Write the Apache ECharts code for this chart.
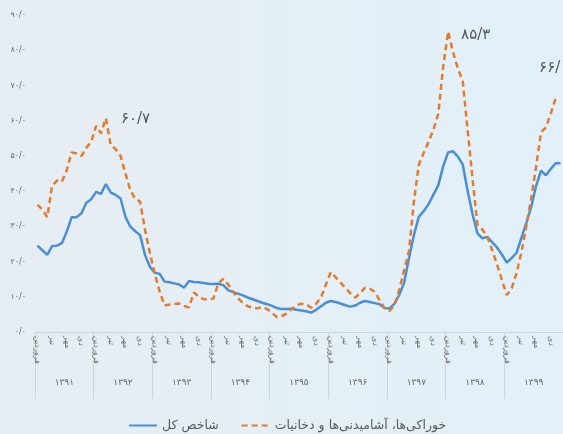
<!DOCTYPE html>
<html>
<head>
<meta charset="utf-8">
<script src="https://cdn.jsdelivr.net/npm/echarts@6/dist/echarts.min.js"></script>
<style>
html,body{margin:0;padding:0;}
#chart{width:563px;height:434px;}
</style>
</head>
<body>
<div id="chart"></div>
<script>
// ---- data ----
var years = ['۱۳۹۱','۱۳۹۲','۱۳۹۳','۱۳۹۴','۱۳۹۵','۱۳۹۶','۱۳۹۷','۱۳۹۸','۱۳۹۹'];
var monthNames = ['فروردین','اردیبهشت','خرداد','تیر','مرداد','شهریور','مهر','آبان','آذر','دی','بهمن','اسفند'];
var seriesNames = ['شاخص کل','خوراکی‌ها، آشامیدنی‌ها و دخانیات'];
var overall = [
 24.5,23.2,21.9,24.4,24.5,25.2,28.5,32.6,32.6,33.7,36.7,37.7,
 39.8,39.2,42.0,39.6,38.9,37.9,32.7,29.9,28.6,27.5,21.9,18.5,
 16.8,16.5,14.3,14.1,13.8,13.5,12.6,14.5,14.2,14.1,13.9,13.7,
 13.6,13.7,13.3,11.9,11.3,10.9,10.4,9.8,9.3,8.8,8.3,7.9,
 7.4,6.8,6.5,6.5,6.6,6.3,6.1,5.9,5.5,6.3,7.3,8.3,
 8.8,8.5,8.1,7.6,7.2,7.5,8.3,8.8,8.5,8.2,7.9,6.8,
 6.7,8.0,10.5,14.0,21.0,27.5,32.7,34.3,36.3,39.0,41.7,47.1,
 51.0,51.3,49.8,47.5,40.0,33.4,28.0,26.6,27.0,25.5,24.0,22.0,
 19.7,21.0,22.5,26.7,31.0,35.5,41.5,45.8,44.5,46.3,47.9,47.9
];
var food = [
 36.1,34.8,32.6,41.5,43.0,42.7,46.0,51.0,50.7,50.0,52.3,54.0,
 58.5,56.4,60.7,53.0,51.9,50.0,45.0,40.3,37.8,37.0,29.0,22.5,
 16.5,11.5,7.5,7.8,8.0,8.1,7.4,7.0,11.2,10.0,9.3,9.3,
 9.5,13.8,15.1,13.5,11.5,9.6,8.3,7.3,6.9,6.7,7.1,6.5,
 5.4,4.2,4.5,5.3,6.5,7.6,8.0,7.8,6.9,8.0,9.8,13.5,
 17.0,15.5,14.0,12.5,11.0,9.8,11.0,12.6,12.3,11.4,9.0,6.8,
 6.0,7.5,12.0,17.5,23.0,37.0,47.5,50.8,54.0,57.5,62.0,75.5,
 85.3,79.5,74.8,71.1,57.2,43.4,30.5,29.1,27.1,23.3,19.2,14.8,
 10.5,12.4,16.7,22.7,30.0,38.0,47.0,56.7,58.1,62.0,66.4,null
];
var callouts = [
 {idx:14, value:60.7, text:'۶۰/۷'},
 {idx:84, value:85.3, text:'۸۵/۳'},
 {idx:106, value:66.4, text:'۶۶/'}
];
var yTicks = ['۰/۰','۱۰/۰','۲۰/۰','۳۰/۰','۴۰/۰','۵۰/۰','۶۰/۰','۷۰/۰','۸۰/۰','۹۰/۰'];

// ---- build ----
var months = [];
years.forEach(function(y){ monthNames.forEach(function(m){ months.push(m + ' ' + y); }); });
var shownMonths = {0:1,3:1,6:1,9:1};
var FONT = 'DejaVu Sans';

var chart = echarts.init(document.getElementById('chart'), null, {renderer:'canvas'});
chart.setOption({
  backgroundColor: new echarts.graphic.LinearGradient(0,0,1,0,[
    {offset:0,color:'#e6edf2'},{offset:0.6,color:'#e4eff6'},{offset:1,color:'#e1f0f9'}
  ]),
  animation:false,
  textStyle:{fontFamily:FONT},
  grid:{left:35,right:0,top:15,bottom:102,containLabel:false},
  legend:{
    top:414, left:123,
    itemWidth:28, itemHeight:10, itemGap:22,
    itemStyle:{opacity:0},
    textStyle:{fontSize:12.5,color:'#5a5a5a',fontFamily:FONT},
    data:[seriesNames[0],seriesNames[1]]
  },
  xAxis:[
    {
      type:'category', data:months, boundaryGap:true,
      axisLine:{show:true,lineStyle:{color:'#cfd4d8',width:1}},
      axisTick:{show:false},
      axisLabel:{
        interval:0, rotate:-90, margin:4, fontSize:8, color:'#6a6a6a',
        formatter:function(v,i){ return shownMonths[i%12] ? monthNames[i%12] : ''; }
      },
      splitLine:{show:false}
    },
    {
      type:'category', data:years, position:'bottom', boundaryGap:true,
      axisLine:{show:false},
      axisTick:{show:true,length:67,lineStyle:{color:'#cfd4d8',width:1}},
      axisLabel:{margin:46,fontSize:9,color:'#666'},
      splitLine:{show:false}
    }
  ],
  yAxis:{
    type:'value', min:0, max:90, interval:10,
    axisLine:{show:false}, axisTick:{show:false}, splitLine:{show:false},
    axisLabel:{fontSize:8,color:'#6a6a6a',margin:9,
      formatter:function(v){ return yTicks[Math.round(v/10)]; }}
  },
  series:[
    {
      name:seriesNames[0], type:'line', data:overall, symbol:'none', xAxisIndex:0,
      lineStyle:{color:'#4a8fd6',width:2.5}, itemStyle:{color:'#4a8fd6'}, z:3
    },
    {
      name:seriesNames[1], type:'line', data:food, symbol:'none', xAxisIndex:0,
      lineStyle:{color:'#e37b2c',width:2.5,type:[6,4]}, itemStyle:{color:'#e37b2c'}, z:4,
      markPoint:{
        symbol:'circle', symbolSize:0, silent:true,
        data:[
          {coord:[callouts[0].idx,callouts[0].value], label:{show:true,formatter:callouts[0].text,position:'right',offset:[10,1],fontSize:15,color:'#555',fontFamily:FONT}},
          {coord:[callouts[1].idx,callouts[1].value], label:{show:true,formatter:callouts[1].text,position:'right',offset:[8,4],fontSize:15,color:'#555',fontFamily:FONT}},
          {coord:[callouts[2].idx,callouts[2].value], label:{show:true,formatter:callouts[2].text,position:'top',offset:[-6,-18],fontSize:15,color:'#555',fontFamily:FONT}}
        ]
      }
    }
  ]
});
</script>
</body>
</html>
